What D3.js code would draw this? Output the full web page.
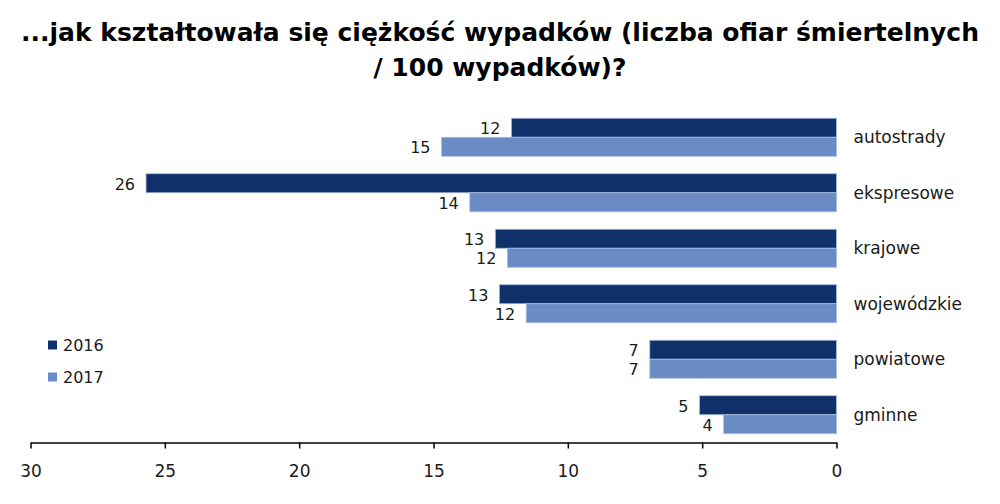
<!DOCTYPE html>
<html>
<head>
  <meta charset="UTF-8">
  <title>Ciężkość wypadków</title>
  <style>
    body { margin: 0; background: #fff; }
    text { font-family: "DejaVu Sans", Verdana, sans-serif; fill: #1a1a1a; }
  </style>
</head>
<body>
  <script src="https://d3js.org/d3.v7.min.js"></script>
  <script>
    // dane
    let kategorie = ["autostrady", "ekspresowe", "krajowe", "wojewódzkie", "powiatowe", "gminne"];
    let lata = ["2016", "2017"];
    let wartosci2016 = [12.1, 25.7, 12.7, 12.55, 6.95, 5.1];
    let wartosci2017 = [14.7, 13.65, 12.25, 11.55, 6.95, 4.2];
    let osTicks = [30, 25, 20, 15, 10, 5, 0];
    let kolory = ["#10306a", "#6a8bc3"];

    let width = 1000;
    let height = 504;

    let svg = d3.select("body")
      .append("svg")
      .attr("width", width)
      .attr("height", height);

    // tytuł
    let tytul = ["...jak kształtowała się ciężkość wypadków (liczba ofiar śmiertelnych",
                 "/ 100 wypadków)?"];
    svg.selectAll(".tytul")
      .data(tytul)
      .enter()
      .append("text")
      .attr("class", "tytul")
      .attr("x", width / 2)
      .attr("y", (d, i) => 41 + i * 35)
      .attr("text-anchor", "middle")
      .attr("font-size", "25px")
      .attr("font-weight", "bold")
      .style("fill", "#000")
      .text(d => d);

    // skale
    let x = d3.scaleLinear().domain([30, 0]).range([30.5, 836.5]);
    let y = d3.scaleBand().domain(kategorie).range([109, 443])
      .paddingInner(0.315).paddingOuter(0.1667);
    let yIn = d3.scaleBand().domain(lata).range([0, y.bandwidth()]);

    let dane = [];
    kategorie.forEach(function (k, i) {
      dane.push({ kat: k, rok: "2016", v: wartosci2016[i] });
      dane.push({ kat: k, rok: "2017", v: wartosci2017[i] });
    });

    // słupki
    svg.selectAll("rect.bar")
      .data(dane)
      .enter()
      .append("rect")
      .attr("class", "bar")
      .attr("x", d => x(d.v))
      .attr("y", d => y(d.kat) + yIn(d.rok))
      .attr("width", d => x(0) - x(d.v))
      .attr("height", yIn.bandwidth())
      .attr("fill", d => kolory[lata.indexOf(d.rok)])
      .attr("stroke", "#a9bde0")
      .attr("stroke-width", 0.8);

    // etykiety wartości
    svg.selectAll("text.etykieta")
      .data(dane)
      .enter()
      .append("text")
      .attr("class", "etykieta")
      .attr("x", d => x(d.v) - 11)
      .attr("y", d => y(d.kat) + yIn(d.rok) + yIn.bandwidth() / 2 + 1)
      .attr("text-anchor", "end")
      .attr("dominant-baseline", "central")
      .attr("font-size", "16px")
      .text(d => d3.format(".0f")(d.v));

    // nazwy kategorii
    svg.selectAll("text.kat")
      .data(kategorie)
      .enter()
      .append("text")
      .attr("class", "kat")
      .attr("x", x(0) + 17)
      .attr("y", d => y(d) + y.bandwidth() / 2)
      .attr("dominant-baseline", "central")
      .attr("font-size", "17px")
      .text(d => d);

    // oś X
    let os = svg.append("g")
      .attr("transform", "translate(0," + 442.5 + ")")
      .call(d3.axisBottom(x).tickValues(osTicks).tickSize(6).tickSizeOuter(0).tickPadding(16));
    os.select(".domain").attr("stroke", "#000").attr("stroke-width", 1.5);
    os.selectAll(".tick line").attr("stroke", "#000").attr("stroke-width", 1.5);
    os.selectAll(".tick text")
      .attr("font-size", "17px")
      .attr("font-family", "DejaVu Sans, sans-serif")
      .style("fill", "#1a1a1a");

    // legenda
    let legenda = svg.selectAll("g.leg")
      .data(lata)
      .enter()
      .append("g")
      .attr("class", "leg")
      .attr("transform", (d, i) => "translate(48," + (345 + i * 32) + ")");
    legenda.append("rect")
      .attr("x", 0)
      .attr("y", -4.5)
      .attr("width", 9)
      .attr("height", 9)
      .attr("fill", (d, i) => kolory[i]);
    legenda.append("text")
      .attr("x", 15)
      .attr("y", 0)
      .attr("dominant-baseline", "central")
      .attr("font-size", "16px")
      .text(d => d);
  </script>
</body>
</html>
